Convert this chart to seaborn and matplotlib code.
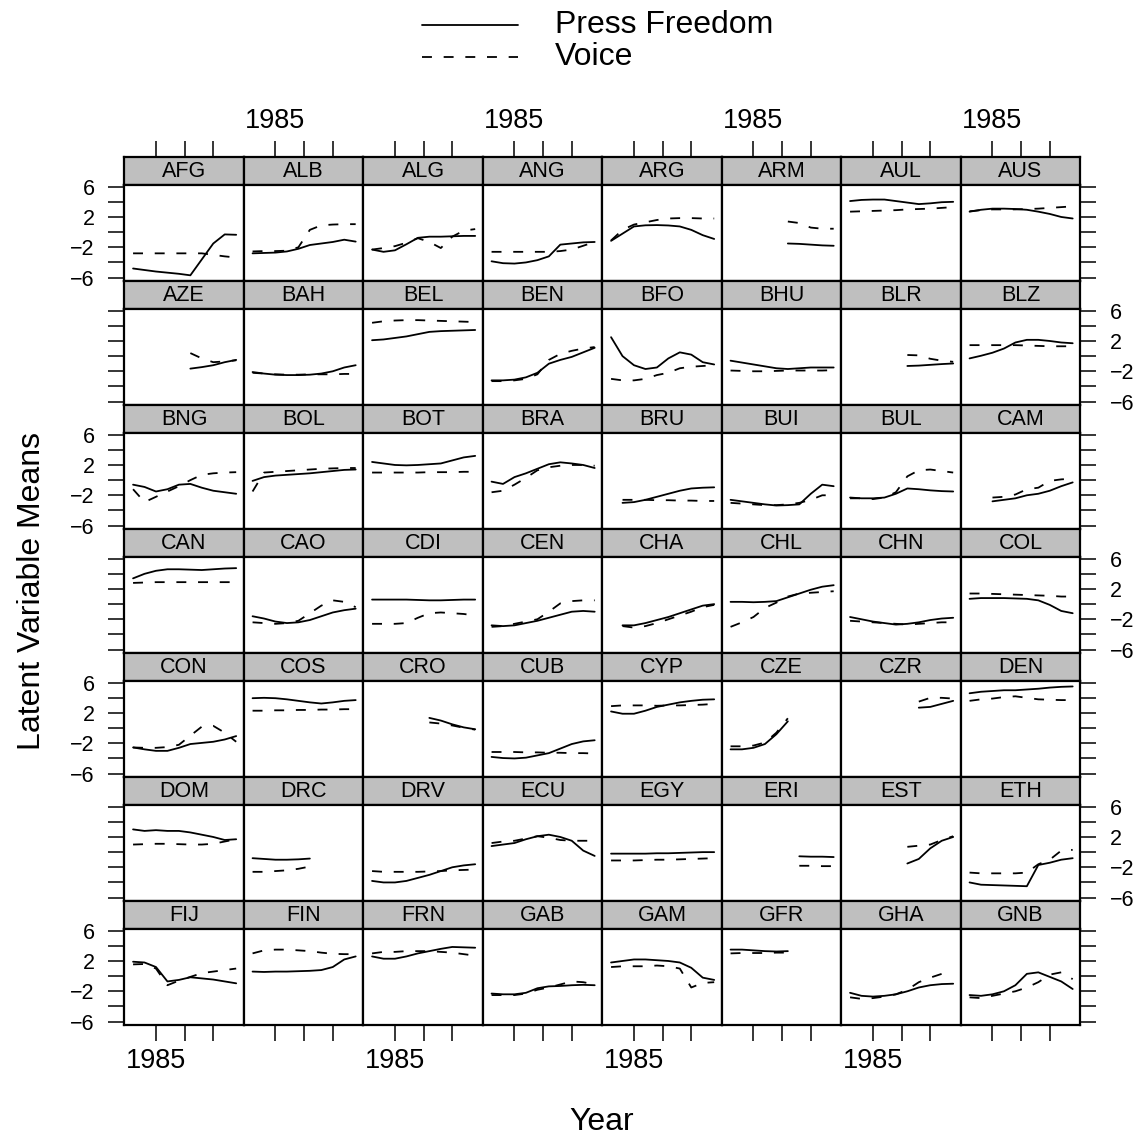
import numpy as np
import pandas as pd
import matplotlib
matplotlib.use("Agg")
import matplotlib.pyplot as plt
from matplotlib.lines import Line2D
import seaborn as sns

# --- data, one (press freedom, voice) pair per country ---
YEARS = [1981, 1983, 1985, 1987, 1989, 1991, 1993, 1995, 1997, 1999]
SERIES_NAMES = ["Press Freedom", "Voice"]
N = np.nan

AFG = ([-4.8, -5.0, -5.2, -5.35, -5.5, -5.7, -3.6, -1.5, -0.3, -0.35],
       [-2.8, -2.8, -2.8, -2.8, -2.8, -2.8, -2.8, -3.0, -3.2, -3.35])
ALB = ([-2.8, -2.75, -2.7, -2.55, -2.2, -1.7, -1.5, -1.3, -1.0, -1.25],
       [-2.55, -2.5, -2.5, -2.45, -2.0, 0.3, 0.9, 1.0, 1.05, 1.05])
ALG = ([-2.3, -2.6, -2.4, -1.6, -0.75, -0.6, -0.6, -0.55, -0.5, -0.5],
       [-2.3, -2.1, -1.85, -1.4, -0.8, -1.3, -2.1, -0.6, 0.2, 0.4])
ANG = ([-3.85, -4.1, -4.15, -4.0, -3.7, -3.2, -1.65, -1.5, -1.35, -1.3],
       [-2.6, -2.6, -2.6, -2.6, -2.6, -2.6, -2.5, -2.3, -1.8, -1.3])
ARG = ([-1.15, -0.2, 0.75, 0.9, 0.93, 0.88, 0.75, 0.3, -0.4, -0.9],
       [-1.1, 0.3, 1.0, 1.3, 1.6, 1.8, 1.85, 1.85, 1.8, 1.8])
ARM = ([N, N, N, N, N, -1.5, -1.55, -1.65, -1.75, -1.8],
       [N, N, N, N, N, 1.4, 1.2, 0.6, 0.45, 0.45])
AUL = ([4.1, 4.25, 4.3, 4.3, 4.1, 3.9, 3.7, 3.8, 3.95, 4.0],
       [2.7, 2.75, 2.8, 2.85, 2.9, 3.0, 3.05, 3.1, 3.2, 3.3])
AUS = ([2.7, 2.95, 3.1, 3.1, 3.05, 2.95, 2.7, 2.4, 2.0, 1.8],
       [2.75, 2.9, 3.0, 3.0, 3.0, 3.05, 3.1, 3.2, 3.3, 3.4])

AZE = ([N, N, N, N, N, -1.65, -1.45, -1.2, -0.8, -0.5],
       [N, N, N, N, N, 0.4, -0.3, -0.8, -0.7, -0.55])
BAH = ([-2.1, -2.3, -2.45, -2.5, -2.5, -2.45, -2.3, -2.0, -1.5, -1.2],
       [-2.2, -2.3, -2.4, -2.45, -2.45, -2.4, -2.4, -2.4, -2.35, -2.35])
BEL = ([2.1, 2.2, 2.4, 2.6, 2.9, 3.2, 3.3, 3.35, 3.4, 3.45],
       [4.4, 4.6, 4.7, 4.75, 4.75, 4.7, 4.65, 4.6, 4.55, 4.5])
BEN = ([-3.2, -3.2, -3.1, -2.8, -2.2, -1.0, -0.5, -0.1, 0.5, 1.1],
       [-3.3, -3.3, -3.2, -3.0, -2.4, -0.5, 0.3, 0.7, 1.0, 1.2])
BFO = ([2.5, 0.0, -1.2, -1.7, -1.5, -0.3, 0.5, 0.2, -0.8, -1.1],
       [-3.0, -3.2, -3.2, -3.0, -2.5, -2.2, -1.6, -1.4, -1.3, -1.2])
BHU = ([-0.6, -0.85, -1.1, -1.35, -1.6, -1.7, -1.6, -1.5, -1.5, -1.5],
       [-1.9, -1.95, -2.0, -2.0, -1.95, -1.9, -1.9, -1.9, -1.9, -1.85])
BLR = ([N, N, N, N, N, -1.3, -1.25, -1.15, -1.05, -0.97],
       [N, N, N, N, N, 0.15, 0.1, -0.35, -0.6, -0.75])
BLZ = ([-0.3, 0.05, 0.45, 1.0, 1.8, 2.15, 2.15, 2.0, 1.8, 1.7],
       [1.45, 1.45, 1.45, 1.45, 1.45, 1.4, 1.35, 1.3, 1.3, 1.3])

BNG = ([-0.6, -0.9, -1.5, -1.2, -0.6, -0.5, -1.0, -1.4, -1.6, -1.8],
       [-1.2, -2.9, -2.2, -1.5, -0.8, 0.0, 0.7, 0.9, 1.0, 1.05])
BOL = ([-0.1, 0.4, 0.6, 0.7, 0.8, 0.9, 1.05, 1.2, 1.35, 1.4],
       [-1.5, 1.0, 1.1, 1.2, 1.3, 1.4, 1.5, 1.55, 1.6, 1.6])
BOT = ([2.4, 2.2, 2.0, 1.95, 2.0, 2.1, 2.2, 2.6, 3.0, 3.2],
       [1.0, 1.0, 1.0, 1.0, 1.0, 1.05, 1.05, 1.05, 1.1, 1.1])
BRA = ([-0.2, -0.5, 0.4, 0.9, 1.5, 2.1, 2.35, 2.2, 2.0, 1.6],
       [-1.6, -1.4, -0.6, 0.3, 1.3, 1.7, 1.9, 2.0, 2.0, 1.9])
BRU = ([N, -3.0, -2.9, -2.6, -2.2, -1.8, -1.4, -1.1, -1.0, -0.95],
       [N, -2.6, -2.6, -2.6, -2.65, -2.65, -2.7, -2.7, -2.75, -2.75])
BUI = ([-2.6, -2.8, -3.0, -3.2, -3.35, -3.3, -3.2, -1.8, -0.6, -0.8],
       [-3.0, -3.1, -3.2, -3.3, -3.3, -3.2, -3.0, -2.6, -2.0, -2.0])
BUL = ([-2.3, -2.4, -2.4, -2.3, -1.8, -1.1, -1.2, -1.35, -1.45, -1.5],
       [-2.4, -2.4, -2.5, -2.3, -1.6, 0.5, 1.3, 1.4, 1.2, 1.0])
CAM = ([N, N, -2.8, -2.6, -2.4, -2.0, -1.8, -1.4, -0.8, -0.3],
       [N, N, -2.3, -2.2, -1.9, -1.2, -1.0, -0.1, 0.1, 0.2])

CAN = ([3.4, 4.0, 4.4, 4.6, 4.6, 4.55, 4.5, 4.6, 4.7, 4.75],
       [2.8, 2.85, 2.9, 2.9, 2.9, 2.9, 2.9, 2.9, 2.9, 2.9])
CAO = ([-1.6, -1.9, -2.3, -2.5, -2.4, -2.1, -1.6, -1.1, -0.8, -0.6],
       [-2.4, -2.5, -2.6, -2.5, -2.2, -1.2, -0.2, 0.5, 0.3, -0.4])
CDI = ([0.6, 0.6, 0.6, 0.6, 0.55, 0.5, 0.5, 0.55, 0.6, 0.6],
       [-2.6, -2.6, -2.6, -2.5, -1.8, -1.2, -1.1, -1.2, -1.3, -1.5])
CEN = ([-2.8, -2.9, -2.8, -2.5, -2.2, -1.8, -1.4, -1.0, -0.9, -1.0],
       [-3.0, -2.9, -2.6, -2.3, -2.0, -1.0, 0.1, 0.4, 0.5, 0.5])
CHA = ([N, -2.8, -2.8, -2.5, -2.1, -1.7, -1.2, -0.7, -0.2, 0.0],
       [N, -2.9, -3.1, -2.9, -2.5, -2.0, -1.5, -1.0, -0.4, -0.1])
CHL = ([0.3, 0.3, 0.25, 0.3, 0.4, 0.9, 1.4, 1.9, 2.3, 2.5],
       [-3.0, -2.4, -1.7, -0.5, 0.2, 1.0, 1.4, 1.5, 1.6, 1.7])
CHN = ([-1.7, -2.0, -2.3, -2.5, -2.7, -2.6, -2.4, -2.1, -1.9, -1.8],
       [-2.2, -2.3, -2.4, -2.5, -2.6, -2.7, -2.6, -2.5, -2.4, -2.4])
COL = ([0.7, 0.8, 0.8, 0.8, 0.75, 0.7, 0.5, -0.1, -0.9, -1.2],
       [1.4, 1.4, 1.35, 1.3, 1.25, 1.2, 1.15, 1.1, 1.0, 1.0])

CON = ([-2.55, -2.8, -3.0, -3.0, -2.6, -2.1, -1.95, -1.8, -1.5, -1.05],
       [-2.55, -2.6, -2.6, -2.5, -2.2, -1.0, 0.2, 0.3, -0.6, -1.8])
COS = ([3.95, 4.0, 3.95, 3.8, 3.6, 3.4, 3.25, 3.4, 3.6, 3.7],
       [2.3, 2.3, 2.35, 2.35, 2.4, 2.4, 2.45, 2.45, 2.5, 2.5])
CRO = ([N, N, N, N, N, 1.35, 1.0, 0.5, 0.1, -0.15],
       [N, N, N, N, N, 0.75, 0.6, 0.35, 0.05, -0.2])
CUB = ([-3.8, -3.95, -4.0, -3.9, -3.6, -3.3, -2.7, -2.1, -1.75, -1.6],
       [-3.15, -3.15, -3.15, -3.2, -3.2, -3.25, -3.25, -3.3, -3.3, -3.35])
CYP = ([2.2, 1.9, 1.9, 2.3, 2.8, 3.1, 3.4, 3.6, 3.75, 3.8],
       [2.9, 3.0, 3.0, 3.0, 2.95, 3.0, 3.0, 3.05, 3.1, 3.2])
CZE = ([-2.8, -2.8, -2.6, -2.1, -0.8, 0.9, N, N, N, N],
       [-2.4, -2.4, -2.3, -1.9, -0.6, 1.3, N, N, N, N])
CZR = ([N, N, N, N, N, N, 2.7, 2.8, 3.2, 3.6],
       [N, N, N, N, N, N, 3.5, 4.0, 4.0, 3.9])
DEN = ([4.6, 4.8, 4.9, 5.0, 5.0, 5.1, 5.2, 5.35, 5.45, 5.5],
       [3.6, 3.8, 3.9, 4.1, 4.2, 4.0, 3.8, 3.75, 3.7, 3.7])

DOM = ([3.0, 2.8, 2.9, 2.8, 2.8, 2.6, 2.3, 2.0, 1.6, 1.7],
       [1.0, 1.05, 1.1, 1.1, 1.05, 1.0, 1.0, 1.1, 1.4, 1.7])
DRC = ([-0.8, -0.9, -1.0, -1.0, -0.95, -0.85, N, N, N, N],
       [-2.6, -2.6, -2.5, -2.4, -2.2, -1.9, N, N, N, N])
DRV = ([-3.8, -4.0, -4.0, -3.8, -3.4, -3.0, -2.5, -2.0, -1.75, -1.6],
       [-2.5, -2.6, -2.6, -2.6, -2.6, -2.55, -2.5, -2.4, -2.35, -2.3])
ECU = ([0.8, 1.0, 1.2, 1.7, 2.1, 2.3, 2.0, 1.5, 0.2, -0.5],
       [1.2, 1.4, 1.5, 1.8, 2.1, 1.9, 1.6, 1.5, 1.5, 1.5])
EGY = ([-0.2, -0.2, -0.2, -0.2, -0.15, -0.15, -0.1, -0.05, 0.0, 0.0],
       [-1.1, -1.1, -1.1, -1.05, -1.0, -1.0, -0.95, -0.9, -0.85, -0.8])
ERI = ([N, N, N, N, N, N, -0.55, -0.6, -0.6, -0.65],
       [N, N, N, N, N, N, -1.8, -1.8, -1.85, -1.85])
EST = ([N, N, N, N, N, -1.5, -0.9, 0.5, 1.5, 2.0],
       [N, N, N, N, N, 0.7, 0.85, 1.0, 1.6, 2.1])
ETH = ([-4.0, -4.3, -4.35, -4.4, -4.45, -4.5, -1.7, -1.4, -1.0, -0.8],
       [-2.7, -2.8, -2.8, -2.8, -2.8, -2.7, -1.6, -1.0, 0.2, 0.3])

FIJ = ([1.9, 1.8, 1.2, -0.7, -0.5, -0.15, -0.3, -0.45, -0.7, -0.95],
       [1.55, 1.6, 1.0, -1.2, -0.6, -0.1, 0.4, 0.6, 0.8, 1.0])
FIN = ([0.6, 0.55, 0.6, 0.6, 0.65, 0.7, 0.8, 1.2, 2.2, 2.6],
       [3.0, 3.4, 3.5, 3.5, 3.4, 3.3, 3.1, 2.95, 2.9, 2.9])
FRN = ([2.6, 2.3, 2.3, 2.6, 3.0, 3.3, 3.6, 3.85, 3.8, 3.75],
       [3.0, 3.2, 3.2, 3.3, 3.3, 3.3, 3.2, 3.1, 2.9, 2.7])
GAB = ([-2.3, -2.4, -2.4, -2.2, -1.6, -1.35, -1.3, -1.2, -1.15, -1.2],
       [-2.5, -2.5, -2.5, -2.3, -1.8, -1.5, -1.1, -0.7, -0.8, -1.1])
GAM = ([1.8, 2.0, 2.2, 2.2, 2.1, 2.0, 1.8, 1.1, -0.2, -0.5],
       [1.2, 1.3, 1.3, 1.3, 1.4, 1.3, 1.0, -1.5, -0.9, -0.8])
GFR = ([3.5, 3.5, 3.4, 3.3, 3.25, 3.3, N, N, N, N],
       [3.0, 3.05, 3.05, 3.05, 3.1, 3.1, N, N, N, N])
GHA = ([-2.2, -2.6, -2.7, -2.6, -2.4, -2.0, -1.5, -1.2, -1.05, -1.0],
       [-2.8, -3.0, -2.9, -2.7, -2.4, -1.8, -0.8, -0.2, 0.3, 0.5])
GNB = ([-2.5, -2.6, -2.4, -2.0, -1.2, 0.3, 0.5, -0.1, -0.7, -1.7],
       [-2.8, -2.9, -2.6, -2.3, -2.0, -1.5, -0.8, 0.2, 0.5, -0.4])

COUNTRIES = ["AFG", "ALB", "ALG", "ANG", "ARG", "ARM", "AUL", "AUS",
             "AZE", "BAH", "BEL", "BEN", "BFO", "BHU", "BLR", "BLZ",
             "BNG", "BOL", "BOT", "BRA", "BRU", "BUI", "BUL", "CAM",
             "CAN", "CAO", "CDI", "CEN", "CHA", "CHL", "CHN", "COL",
             "CON", "COS", "CRO", "CUB", "CYP", "CZE", "CZR", "DEN",
             "DOM", "DRC", "DRV", "ECU", "EGY", "ERI", "EST", "ETH",
             "FIJ", "FIN", "FRN", "GAB", "GAM", "GFR", "GHA", "GNB"]
COUNTRY_SERIES = [AFG, ALB, ALG, ANG, ARG, ARM, AUL, AUS,
                  AZE, BAH, BEL, BEN, BFO, BHU, BLR, BLZ,
                  BNG, BOL, BOT, BRA, BRU, BUI, BUL, CAM,
                  CAN, CAO, CDI, CEN, CHA, CHL, CHN, COL,
                  CON, COS, CRO, CUB, CYP, CZE, CZR, DEN,
                  DOM, DRC, DRV, ECU, EGY, ERI, EST, ETH,
                  FIJ, FIN, FRN, GAB, GAM, GFR, GHA, GNB]

X_TICKS = [1985, 1990, 1995]
X_TICK_LABELS = ["1985", "", ""]
Y_TICKS = [-6, -4, -2, 0, 2, 4, 6]
Y_TICK_LABELS = ["\u22126", "", "\u22122", "", "2", "", "6"]

# long table
rows = []
for code, (press, voice) in zip(COUNTRIES, COUNTRY_SERIES):
    for yr, p, v in zip(YEARS, press, voice):
        rows.append((code, yr, "Press Freedom", p))
        rows.append((code, yr, "Voice", v))
df = pd.DataFrame(rows, columns=["country", "year", "series", "value"]).dropna()

sns.set_theme(style="white")
plt.rcParams["font.family"] = ["Liberation Sans", "DejaVu Sans"]
plt.rcParams["text.color"] = "black"
plt.rcParams["xtick.color"] = "black"
plt.rcParams["ytick.color"] = "black"
plt.rcParams["xtick.labelcolor"] = "black"
plt.rcParams["ytick.labelcolor"] = "black"

W = H = 1142
fig = plt.figure(figsize=(W / 100, H / 100), dpi=100)

LEFT, TOP = 124.3, 157.0
PW, SH, PH, PITCH = 119.5, 28.0, 96.0, 124.0
XLIM = (1979.47, 2000.33)
YLIM = (-6.45, 6.22)
NCOL = 8
LW = 1.3
DASH = (5.5, 6.5)
BORDER = 1.6


def fbox(x, y, w, h):
    return [x / W, 1 - (y + h) / H, w / W, h / H]


tick_kw = dict(direction="out", length=11.5, width=1.1, color="black", pad=5)

for i, code in enumerate(COUNTRIES):
    r, c = divmod(i, NCOL)
    x0 = LEFT + c * PW
    y0 = TOP + r * PITCH

    # strip
    sax = fig.add_axes(fbox(x0, y0, PW, SH))
    sax.set_facecolor("#bfbfbf")
    sax.set_xlim(XLIM)
    sax.set_ylim(0, 1)
    sax.text(0.5, 0.47, code, transform=sax.transAxes, ha="center", va="center",
             fontsize=15.5, color="black")
    sax.set_yticks([])
    if r == 0:
        sax.set_xticks(X_TICKS, X_TICK_LABELS)
        sax.tick_params(axis="x", top=True, bottom=False, labeltop=(c % 2 == 1),
                        labelbottom=False, labelsize=19.5, **tick_kw)
    else:
        sax.set_xticks([])
    for sp in sax.spines.values():
        sp.set_linewidth(BORDER)
        sp.set_color("black")

    # panel
    ax = fig.add_axes(fbox(x0, y0 + SH, PW, PH))
    sub = df[df["country"] == code]
    sns.lineplot(data=sub, x="year", y="value", style="series",
                 style_order=SERIES_NAMES,
                 dashes={"Press Freedom": "", "Voice": DASH},
                 color="black", lw=LW, estimator=None, legend=False, ax=ax)
    ax.set_xlim(XLIM)
    ax.set_ylim(YLIM)
    ax.set_xlabel("")
    ax.set_ylabel("")
    for sp in ax.spines.values():
        sp.set_linewidth(BORDER)
        sp.set_color("black")

    if r == 6:
        ax.set_xticks(X_TICKS, X_TICK_LABELS)
        ax.tick_params(axis="x", bottom=True, labelbottom=(c % 2 == 0),
                       labelsize=19.5, **tick_kw)
    else:
        ax.set_xticks([])

    if c == 0 or c == NCOL - 1:
        ax.set_yticks(Y_TICKS, Y_TICK_LABELS)
        ax.tick_params(axis="y", left=(c == 0), right=(c == NCOL - 1),
                       labelleft=(c == 0 and r % 2 == 0),
                       labelright=(c == NCOL - 1 and r % 2 == 1),
                       labelsize=15.5, **dict(tick_kw, pad=10))
    else:
        ax.set_yticks([])

# legend key at the top
fig.add_artist(Line2D([422 / W, 518 / W], [1 - 25 / H, 1 - 25 / H],
                      transform=fig.transFigure, color="black", lw=LW))
fig.add_artist(Line2D([422 / W, 518 / W], [1 - 57 / H, 1 - 57 / H],
                      transform=fig.transFigure, color="black", lw=LW,
                      dashes=DASH))
fig.text(555 / W, 1 - 25 / H, "Press Freedom", ha="left", va="center", fontsize=23)
fig.text(555 / W, 1 - 57 / H, "Voice", ha="left", va="center", fontsize=23)

fig.text(32 / W, 1 - 591 / H, "Latent Variable Means", rotation=90,
         ha="center", va="center", fontsize=23)
fig.text(602 / W, 1 - 1122 / H, "Year", ha="center", va="center", fontsize=23)

fig.savefig("out.png", dpi=100, facecolor="white")
